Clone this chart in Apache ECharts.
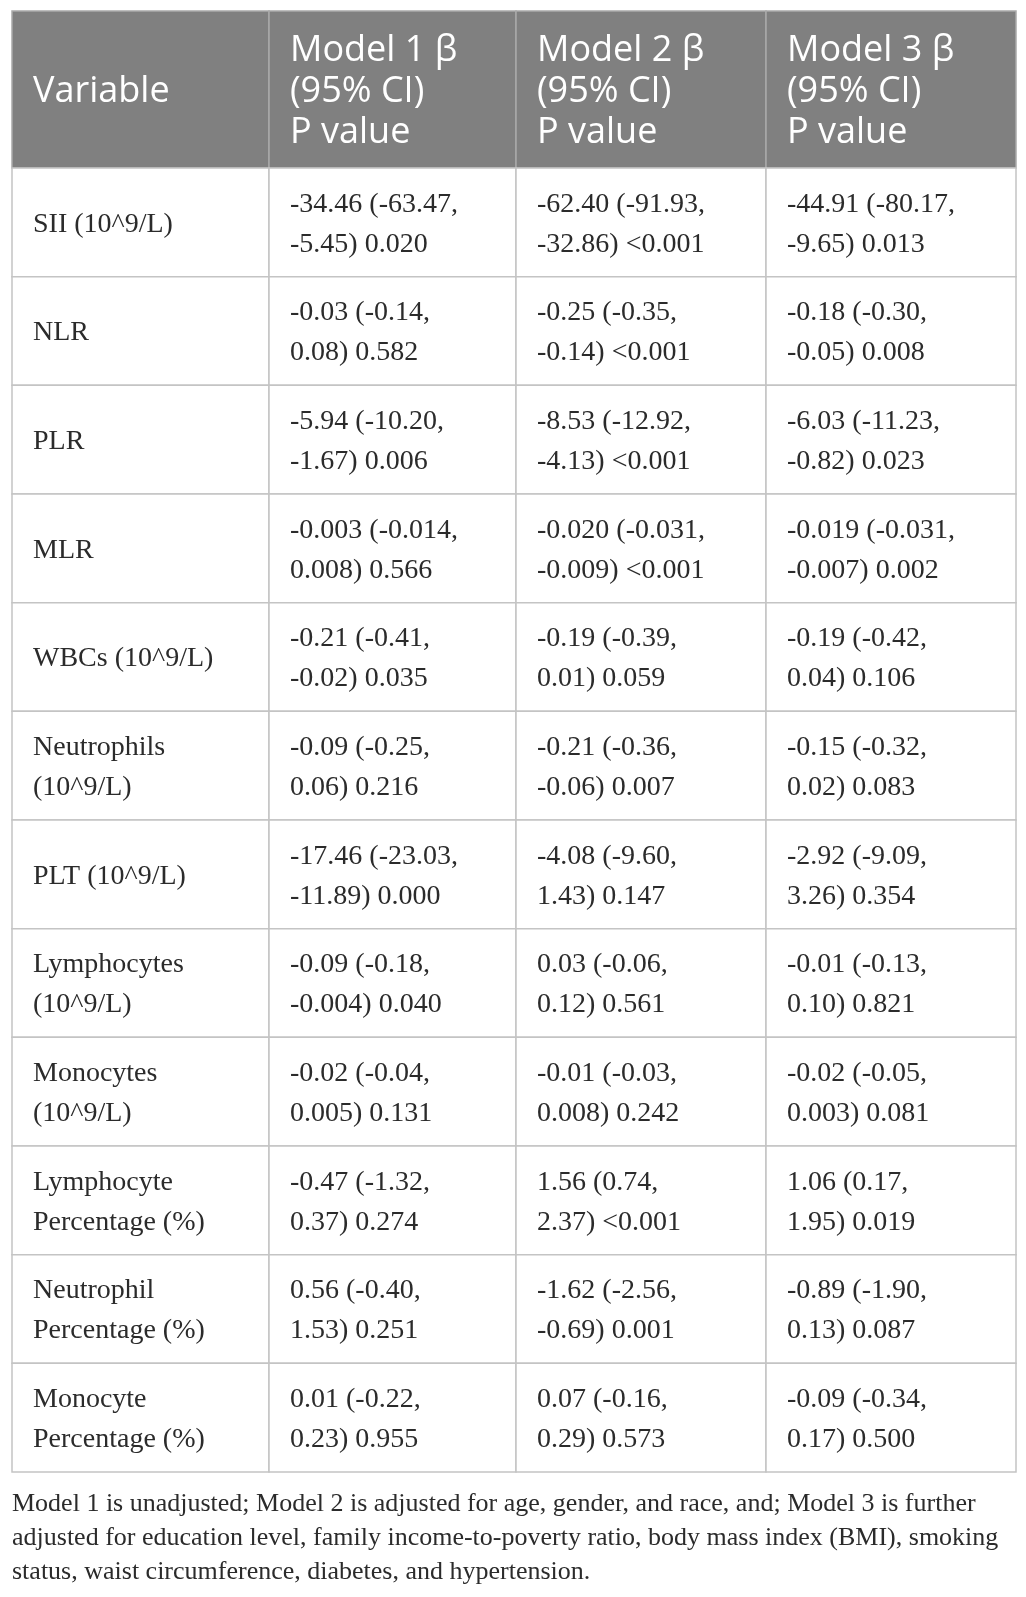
<!DOCTYPE html>
<html lang="en">
<head>
  <meta charset="UTF-8">
  <title>Model estimates table</title>
  <style>
    html, body { margin: 0; padding: 0; background: #fff; }
    #table { width: 1026px; height: 1597px; }
  </style>
</head>
<body>
  <div id="table"></div>
  <script src="https://cdn.jsdelivr.net/npm/echarts@6/dist/echarts.min.js"></script>
  <script>
    // Table content

    const headers = [
      "Variable",
      "Model 1 β\n(95% CI)\nP value",
      "Model 2 β\n(95% CI)\nP value",
      "Model 3 β\n(95% CI)\nP value"
    ];

    const variables = [
      "SII (10^9/L)",
      "NLR",
      "PLR",
      "MLR",
      "WBCs (10^9/L)",
      "Neutrophils\n(10^9/L)",
      "PLT (10^9/L)",
      "Lymphocytes\n(10^9/L)",
      "Monocytes\n(10^9/L)",
      "Lymphocyte\nPercentage (%)",
      "Neutrophil\nPercentage (%)",
      "Monocyte\nPercentage (%)"
    ];

    const model1 = [
      "-34.46 (-63.47, -5.45) 0.020",
      "-0.03 (-0.14, 0.08) 0.582",
      "-5.94 (-10.20, -1.67) 0.006",
      "-0.003 (-0.014, 0.008) 0.566",
      "-0.21 (-0.41, -0.02) 0.035",
      "-0.09 (-0.25, 0.06) 0.216",
      "-17.46 (-23.03, -11.89) 0.000",
      "-0.09 (-0.18, -0.004) 0.040",
      "-0.02 (-0.04, 0.005) 0.131",
      "-0.47 (-1.32, 0.37) 0.274",
      "0.56 (-0.40, 1.53) 0.251",
      "0.01 (-0.22, 0.23) 0.955"
    ];

    const model2 = [
      "-62.40 (-91.93, -32.86) <0.001",
      "-0.25 (-0.35, -0.14) <0.001",
      "-8.53 (-12.92, -4.13) <0.001",
      "-0.020 (-0.031, -0.009) <0.001",
      "-0.19 (-0.39, 0.01) 0.059",
      "-0.21 (-0.36, -0.06) 0.007",
      "-4.08 (-9.60, 1.43) 0.147",
      "0.03 (-0.06, 0.12) 0.561",
      "-0.01 (-0.03, 0.008) 0.242",
      "1.56 (0.74, 2.37) <0.001",
      "-1.62 (-2.56, -0.69) 0.001",
      "0.07 (-0.16, 0.29) 0.573"
    ];

    const model3 = [
      "-44.91 (-80.17, -9.65) 0.013",
      "-0.18 (-0.30, -0.05) 0.008",
      "-6.03 (-11.23, -0.82) 0.023",
      "-0.019 (-0.031, -0.007) 0.002",
      "-0.19 (-0.42, 0.04) 0.106",
      "-0.15 (-0.32, 0.02) 0.083",
      "-2.92 (-9.09, 3.26) 0.354",
      "-0.01 (-0.13, 0.10) 0.821",
      "-0.02 (-0.05, 0.003) 0.081",
      "1.06 (0.17, 1.95) 0.019",
      "-0.89 (-1.90, 0.13) 0.087",
      "-0.09 (-0.34, 0.17) 0.500"
    ];

    const footnote = [
      "Model 1 is unadjusted; Model 2 is adjusted for age, gender, and race, and; Model 3 is further",
      "adjusted for education level, family income-to-poverty ratio, body mass index (BMI), smoking",
      "status, waist circumference, diabetes, and hypertension."
    ];

    // Layout

    const colEdges = [0, 257, 504, 754, 1004];
    const tableLeft = 12;
    const tableWidth = 1004;
    const headTop = 11;
    const headHeight = 157;
    const bodyHeight = 1304;
    const padX = 21;

    const serif = '"Liberation Serif", "Times New Roman", serif';
    const sans = '"Open Sans", "Noto Sans", sans-serif';

    // the CI is wrapped after its first bound
    const wrapCell = s => s.replace(", ", ",\n");

    const headCells = headers.map((h, c) => ({ value: [c, 0], text: h }));
    const bodyCells = [];
    variables.forEach((v, r) => {
      bodyCells.push({ value: [0, r], text: v });
      bodyCells.push({ value: [1, r], text: wrapCell(model1[r]) });
      bodyCells.push({ value: [2, r], text: wrapCell(model2[r]) });
      bodyCells.push({ value: [3, r], text: wrapCell(model3[r]) });
    });

    const cellRenderer = (cells, look) => (params, api) => {
      const c = api.value(0);
      const r = api.value(1);
      const p0 = api.coord([colEdges[c], r]);
      const p1 = api.coord([colEdges[c + 1], r]);
      const h = api.size([0, 1])[1];
      const x = p0[0];
      const y = p0[1] - h / 2;
      const w = p1[0] - p0[0];
      return {
        type: "group",
        children: [
          {
            type: "rect",
            shape: { x: x, y: y, width: w, height: h },
            style: { fill: look.fill, stroke: look.stroke, lineWidth: 1.5 }
          },
          {
            type: "text",
            style: {
              text: cells[params.dataIndex].text,
              x: x + padX,
              y: y + h / 2 + look.dy,
              align: "left",
              verticalAlign: "middle",
              fill: look.color,
              fontFamily: look.font,
              fontSize: look.size,
              lineHeight: look.lineHeight
            }
          }
        ]
      };
    };

    const chart = echarts.init(document.getElementById("table"), null, { renderer: "canvas" });

    const hiddenX = i => ({
      type: "value", gridIndex: i, min: 0, max: tableWidth, show: false
    });

    chart.setOption({
      animation: false,
      backgroundColor: "#fff",
      title: {
        text: footnote.join("\n"),
        left: tableLeft,
        top: 1487,
        padding: 0,
        textStyle: {
          fontFamily: serif,
          fontSize: 26,
          fontWeight: "normal",
          lineHeight: 34,
          color: "#2b2b2b"
        }
      },
      grid: [
        { left: tableLeft, top: headTop, width: tableWidth, height: headHeight },
        { left: tableLeft, top: headTop + headHeight, width: tableWidth, height: bodyHeight }
      ],
      xAxis: [hiddenX(0), hiddenX(1)],
      yAxis: [
        { type: "category", gridIndex: 0, data: ["header"], show: false },
        { type: "category", gridIndex: 1, data: variables, inverse: true, show: false }
      ],
      series: [
        {
          type: "custom",
          xAxisIndex: 0,
          yAxisIndex: 0,
          data: headCells,
          renderItem: cellRenderer(headCells, {
            fill: "#808080", stroke: "#a9a9a9", color: "#ffffff",
            font: sans, size: 36, lineHeight: 41, dy: 2
          })
        },
        {
          type: "custom",
          xAxisIndex: 1,
          yAxisIndex: 1,
          data: bodyCells,
          renderItem: cellRenderer(bodyCells, {
            fill: "#ffffff", stroke: "#c4c4c4", color: "#2b2b2b",
            font: serif, size: 28, lineHeight: 40, dy: 2
          })
        }
      ]
    });
  </script>
</body>
</html>
